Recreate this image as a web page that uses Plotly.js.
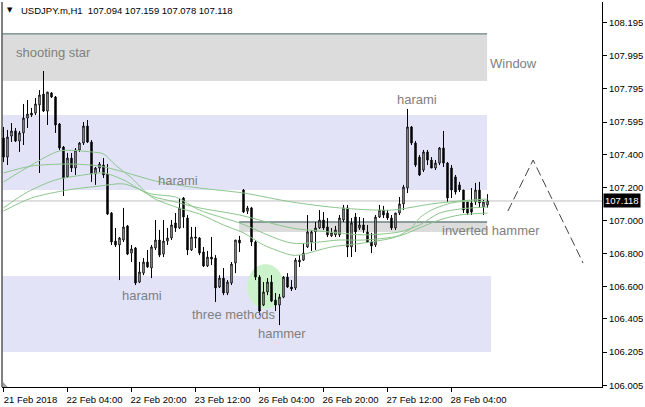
<!DOCTYPE html>
<html><head><meta charset="utf-8">
<script src="https://cdn.plot.ly/plotly-3.0.1.min.js"></script>
<style>html,body{margin:0;padding:0;background:#fff}#chart{width:645px;height:407px}</style>
</head><body><div id="chart"></div>
<script>
// ---- data (USDJPY.m, H1) ----
const symbolName = 'USDJPY.m,H1';
const open = [
107.498,107.383,107.510,107.541,107.480,107.529,107.619,107.649,107.649,107.698,
107.764,107.661,107.770,107.746,107.583,107.444,107.263,107.377,107.317,107.426,
107.468,107.571,107.474,107.281,107.317,107.335,107.281,107.045,106.876,106.852,
106.882,106.967,106.803,106.834,106.628,106.682,106.749,106.713,106.834,106.882,
106.797,106.876,106.894,106.985,106.955,107.136,107.015,106.822,106.900,106.894,
106.810,106.725,106.779,106.773,106.598,106.652,106.562,106.622,106.743,106.882,
107.184,107.057,107.076,106.870,106.658,106.489,106.568,106.628,106.519,106.489,
106.537,106.658,106.598,106.592,106.749,106.761,106.840,106.870,106.931,106.955,
107.003,106.961,106.907,106.913,106.913,107.003,107.076,106.840,107.021,106.955,
106.973,106.931,106.870,106.852,107.021,107.063,107.045,107.015,106.955,107.045,
107.100,107.196,107.565,107.468,107.383,107.305,107.414,107.365,107.317,107.347,
107.438,107.347,107.317,107.263,107.215,107.184,107.112,107.106,107.112,107.184,
107.082,107.094];
const high = [
107.565,107.547,107.589,107.559,107.541,107.704,107.728,107.680,107.740,107.788,
107.903,107.776,107.776,107.752,107.589,107.450,107.408,107.408,107.438,107.474,
107.595,107.607,107.486,107.323,107.353,107.377,107.341,107.051,106.955,106.900,
107.076,106.973,106.852,106.840,106.749,106.773,106.822,106.852,107.003,106.943,
107.003,106.955,107.003,107.045,107.136,107.142,107.033,106.961,106.961,106.900,
106.840,106.816,106.900,106.791,106.670,106.713,106.640,106.749,106.882,106.907,
107.190,107.088,107.082,106.882,106.670,106.628,106.652,106.670,106.562,106.556,
106.664,106.682,106.640,106.773,106.791,106.864,107.033,106.943,106.991,107.063,
107.051,107.015,106.955,106.967,107.033,107.094,107.094,107.015,107.045,107.021,
107.015,106.973,106.925,107.033,107.094,107.088,107.063,107.033,107.045,107.142,
107.215,107.674,107.571,107.480,107.396,107.426,107.426,107.383,107.365,107.444,
107.541,107.353,107.335,107.275,107.233,107.184,107.112,107.196,107.227,107.233,
107.124,107.159];
const low = [
107.353,107.335,107.474,107.474,107.414,107.456,107.559,107.625,107.637,107.287,
107.656,107.577,107.740,107.529,107.426,107.148,107.257,107.293,107.275,107.414,
107.456,107.468,107.233,107.215,107.293,107.257,107.033,106.852,106.840,106.640,
106.870,106.791,106.749,106.610,106.622,106.670,106.713,106.652,106.822,106.779,
106.779,106.852,106.882,106.931,106.949,106.955,106.791,106.816,106.834,106.791,
106.719,106.719,106.731,106.507,106.592,106.549,106.549,106.610,106.682,106.810,
107.045,107.039,106.846,106.640,106.429,106.483,106.549,106.507,106.453,106.368,
106.531,106.592,106.574,106.580,106.719,106.755,106.834,106.816,106.822,106.949,
106.943,106.900,106.900,106.900,106.900,106.991,106.779,106.779,106.810,106.943,
106.925,106.864,106.803,106.840,107.015,107.015,107.003,106.943,106.943,107.033,
107.063,107.166,107.456,107.323,107.269,107.293,107.335,107.317,107.305,107.335,
107.323,107.112,107.136,107.157,107.172,107.045,107.033,107.033,107.094,107.076,
107.033,107.078];
const close = [
107.383,107.504,107.541,107.480,107.529,107.619,107.643,107.637,107.704,107.758,
107.661,107.776,107.746,107.577,107.438,107.257,107.377,107.317,107.426,107.468,
107.571,107.474,107.281,107.317,107.341,107.275,107.039,106.870,106.852,106.894,
106.961,106.797,106.828,106.622,106.689,106.749,106.719,106.840,106.882,106.791,
106.876,106.894,106.973,106.955,107.076,107.021,106.822,106.900,106.894,106.803,
106.725,106.779,106.767,106.592,106.652,106.562,106.628,106.737,106.882,106.864,
107.051,107.076,106.870,106.658,106.453,106.568,106.628,106.513,106.489,106.537,
106.658,106.598,106.586,106.761,106.761,106.803,106.931,106.931,106.955,107.003,
106.955,106.913,106.925,106.943,107.015,107.076,106.840,106.985,106.931,106.973,
106.943,106.870,106.846,107.021,107.063,107.033,107.015,106.955,107.045,107.100,
107.202,107.565,107.468,107.335,107.275,107.414,107.365,107.317,107.347,107.438,
107.347,107.136,107.184,107.172,107.184,107.063,107.045,107.051,107.184,107.106,
107.112,107.118];

// time axis labels (bar index of each label)
const tickBars = [0, 16, 32, 48, 64, 80, 96, 112];
const tickLabels = ['21 Feb 2018','22 Feb 04:00','22 Feb 20:00','23 Feb 12:00',
                    '26 Feb 04:00','26 Feb 20:00','27 Feb 12:00','28 Feb 04:00'];
const priceTicks = [108.195,107.995,107.795,107.595,107.400,107.200,107.000,
                    106.800,106.600,106.405,106.205,106.005];

// moving averages
const maA_bars  = [0,7,14,22,25,28,32,37,43,49,55,60,65,72,74,82,90,98,102,104,107,112,117,121];
const maA_vals  = [107.233,107.335,107.420,107.414,107.402,107.335,107.257,107.142,107.082,107.039,106.973,106.925,106.852,106.791,106.791,106.840,106.864,106.900,106.955,107.015,107.063,107.106,107.118,107.112];
const maB_bars  = [0,7,16,24,30,39,49,60,72,84,97,107,114,121];
const maB_vals  = [107.287,107.329,107.341,107.329,107.293,107.233,107.196,107.166,107.112,107.076,107.063,107.100,107.118,107.130];
const maC_bars  = [0,6,13,20,25,30,37,43,49,59,72,84,90,99,104,109,114,121];
const maC_vals  = [107.076,107.172,107.245,107.275,107.287,107.245,107.148,107.112,107.076,107.033,106.955,106.925,106.913,106.931,106.973,107.045,107.069,107.082];
const maD_bars  = [0,7,16,24,30,37,43,49,59,72,84,90,99,104,109,114,121];
const maD_vals  = [107.057,107.136,107.184,107.208,107.221,107.160,107.142,107.063,106.985,106.864,106.882,106.882,106.907,106.955,107.003,107.033,107.045];

// projection drawing
const projBars   = [126.1, 132.4, 144.9];
const projPrices = [107.057, 107.365, 106.743];

// pattern labels
const labelText  = ['shooting star','Window','harami','harami','three methods','hammer','harami','inverted hammer'];
const labelBar   = [2.6, 121.1, 38.1, 29.1, 46.6, 63.1, 97.9, 109.1];
const labelPrice = [108.012, 107.946, 107.239, 106.544, 106.435, 106.320, 107.728, 106.937];

// zones
const zoneBar0   = [-0.2, -0.2, -0.2, 58.9];
const zoneBar1   = [120.9, 120.9, 121.9, 120.9];
const zoneLow    = [107.843, 107.184, 106.205, 106.931];
const zoneHigh   = [108.121, 107.637, 106.664, 106.991];
const zoneFill   = ['#dcdcdc', '#e3e3f8', '#e3e3f8', '#dcdcdc'];
const circleBars = [60.9, 70.1];
const circlePrices = [106.465, 106.737];

// ---- build ----
const barIndex = open.map((_, i) => i);
const n = close.length - 1;
const FONT = 'Liberation Sans, Arial, sans-serif';

const traces = [{
  type: 'candlestick', x: barIndex, open: open, high: high, low: low, close: close,
  increasing: {line: {color: '#000', width: 1}, fillcolor: '#fff'},
  decreasing: {line: {color: '#000', width: 1}, fillcolor: '#000'},
  whiskerwidth: 0, hoverinfo: 'skip'
}];
const maStyle = {color: '#8cc68c', width: 1, shape: 'spline', smoothing: 0.8};
[[maA_bars, maA_vals],[maB_bars, maB_vals],[maC_bars, maC_vals],[maD_bars, maD_vals]].forEach(m => {
  traces.push({type: 'scatter', mode: 'lines', x: m[0], y: m[1], line: maStyle, hoverinfo: 'skip'});
});
traces.push({type: 'scatter', mode: 'lines', x: projBars, y: projPrices,
  line: {color: '#444', width: 1, dash: '9px,4px'}, hoverinfo: 'skip'});

const shapes = [];
for (let i = 0; i < zoneFill.length; i++) {
  shapes.push({type: 'rect', xref: 'x', yref: 'y', x0: zoneBar0[i], x1: zoneBar1[i],
    y0: zoneLow[i], y1: zoneHigh[i], fillcolor: zoneFill[i], line: {width: 0}, layer: 'below'});
}
shapes.push({type: 'line', xref: 'x', yref: 'y', x0: zoneBar0[0], x1: zoneBar1[0],
  y0: zoneHigh[0] + 0.006, y1: zoneHigh[0] + 0.006, line: {color: '#2f4f4f', width: 1}, layer: 'below'});
shapes.push({type: 'line', xref: 'x', yref: 'y', x0: zoneBar0[3], x1: zoneBar1[3],
  y0: zoneHigh[3], y1: zoneHigh[3], line: {color: '#2f4f4f', width: 1}, layer: 'below'});
shapes.push({type: 'circle', xref: 'x', yref: 'y', x0: circleBars[0], x1: circleBars[1],
  y0: circlePrices[0], y1: circlePrices[1], fillcolor: '#ccf2cc', line: {width: 0}, layer: 'below'});
shapes.push({type: 'line', xref: 'paper', yref: 'y', x0: 0, x1: 1, y0: close[n], y1: close[n],
  line: {color: '#c0c0c0', width: 1}, layer: 'below'});
shapes.push({type: 'line', xref: 'paper', yref: 'paper', x0: 0, x1: 0, y0: 0, y1: 1,
  line: {color: '#000', width: 1}});
shapes.push({type: 'path', xref: 'paper', yref: 'paper',
  path: 'M 0.0017 0.013 L 0.0017 0 L 0.0095 0 Z', fillcolor: '#a0a0a0', line: {width: 0}});

const annotations = [];
annotations.push({xref: 'paper', yref: 'paper', x: 0.0045, y: 0.979, xanchor: 'left', yanchor: 'middle',
  text: '\u25BC', showarrow: false, font: {family: 'DejaVu Sans', size: 7, color: '#000'}});
const fmt = v => v.toFixed(3);
annotations.push({xref: 'paper', yref: 'paper', x: 0.0283, y: 0.979, xanchor: 'left', yanchor: 'middle',
  text: symbolName + '\u00a0\u00a0' + [open[n], high[n], low[n], close[n]].map(fmt).join(' '),
  showarrow: false, font: {family: FONT, size: 9.5, color: '#000'}});
for (let i = 0; i < labelText.length; i++) {
  annotations.push({xref: 'x', yref: 'y', x: labelBar[i], y: labelPrice[i], xanchor: 'left', yanchor: 'middle',
    text: labelText[i], showarrow: false, font: {family: FONT, size: 13, color: '#808080'}});
}
annotations.push({xref: 'paper', yref: 'y', x: 1, y: close[n], xanchor: 'left', yanchor: 'middle', xshift: 1,
  text: fmt(close[n]), showarrow: false, bgcolor: '#000', borderpad: 1,
  font: {family: FONT, size: 9.5, color: '#fff'}});

const layout = {
  width: 645, height: 407,
  margin: {l: 2, r: 43, t: 2, b: 20},
  paper_bgcolor: '#fff', plot_bgcolor: '#fff',
  showlegend: false, hovermode: false, boxgap: 0.5,
  xaxis: {range: [-0.375, 149.625], showgrid: false, zeroline: false, showline: true,
    linecolor: '#000', linewidth: 1, ticks: 'outside', ticklen: 4, tickcolor: '#000',
    tickvals: tickBars, ticktext: tickLabels, ticklabelshift: 27,
    tickfont: {family: FONT, size: 9.5, color: '#000'},
    rangeslider: {visible: false}, fixedrange: true},
  yaxis: {side: 'right', range: [105.994, 108.320], showgrid: false, zeroline: false,
    showline: true, linecolor: '#000', linewidth: 1, ticks: 'outside', ticklen: 4,
    tickcolor: '#000', tickvals: priceTicks, tickformat: '.3f',
    tickfont: {family: FONT, size: 9.5, color: '#000'}, fixedrange: true},
  shapes: shapes, annotations: annotations
};
Plotly.newPlot('chart', traces, layout, {displayModeBar: false, staticPlot: true});
</script></body></html>
